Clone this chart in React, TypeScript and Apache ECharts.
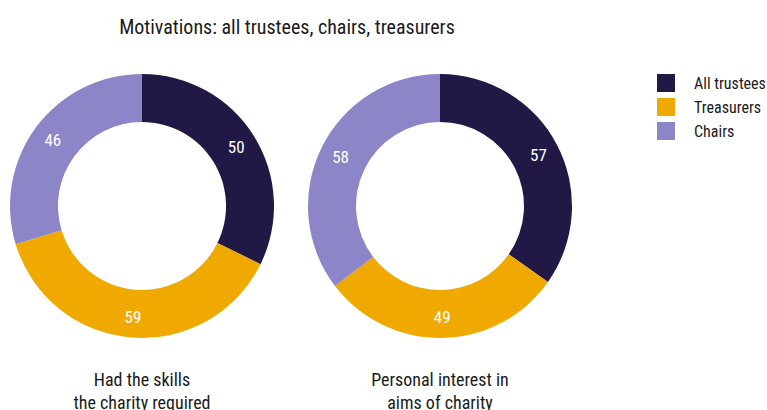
import React, { useEffect, useRef } from "react";
import * as echarts from "echarts";

const seriesNames = ["All trustees", "Treasurers", "Chairs"];
const colors = ["#221845", "#EFA900", "#8C86C8"];
const skillsValues = [50, 59, 46];
const interestValues = [57, 49, 58];
const donutLabels = ["Had the skills\nthe charity required", "Personal interest in\naims of charity"];
const titleText = "Motivations: all trustees, chairs, treasurers";

const FONT = "'Roboto Condensed', 'Liberation Sans Narrow', Roboto, sans-serif";

export default function App() {
  const ref = useRef<HTMLDivElement>(null);
  useEffect(() => {
    document.body.style.margin = "0";
    const chart = echarts.init(ref.current!, undefined, { renderer: "svg" });
    const mkData = (vals: number[]) =>
      vals.map((v, i) => ({ name: seriesNames[i], value: v, itemStyle: { color: colors[i] } }));
    const pieBase = {
      type: "pie",
      radius: [84, 132],
      startAngle: 90,
      clockwise: true,
      avoidLabelOverlap: false,
      label: {
        show: true,
        position: "inside",
        formatter: "{c}",
        color: "#ffffff",
        fontSize: 17,
        fontFamily: FONT,
      },
      labelLine: { show: false },
      emphasis: { disabled: true },
      itemStyle: { borderWidth: 0 },
    };
    chart.setOption({
      animation: false,
      color: colors,
      title: {
        text: titleText,
        left: 287,
        top: 17,
        padding: 0,
        textAlign: "center",
        textStyle: { fontFamily: FONT, fontSize: 20, fontWeight: "normal", color: "#1a1a1a" },
      },
      legend: {
        orient: "vertical",
        left: 657,
        top: 74,
        padding: 0,
        icon: "rect",
        itemWidth: 18,
        itemHeight: 18,
        itemGap: 6,
        data: seriesNames,
        textStyle: { fontFamily: FONT, fontSize: 16, color: "#1a1a1a", padding: [0, 0, 0, 14] },
        selectedMode: false,
      },
      series: [
        { ...pieBase, name: "skills", center: [142, 206], data: mkData(skillsValues) },
        { ...pieBase, name: "interest", center: [440, 206], data: mkData(interestValues) },
      ],
      graphic: [
        {
          type: "text",
          x: 142,
          y: 368,
          style: {
            text: donutLabels[0],
            textAlign: "center",
            fontFamily: FONT,
            fontSize: 18,
            lineHeight: 23,
            fill: "#1a1a1a",
          },
        },
        {
          type: "text",
          x: 440,
          y: 368,
          style: {
            text: donutLabels[1],
            textAlign: "center",
            fontFamily: FONT,
            fontSize: 18,
            lineHeight: 23,
            fill: "#1a1a1a",
          },
        },
      ],
    });
    return () => chart.dispose();
  }, []);
  return <div ref={ref} style={{ width: 767, height: 410 }} />;
}
